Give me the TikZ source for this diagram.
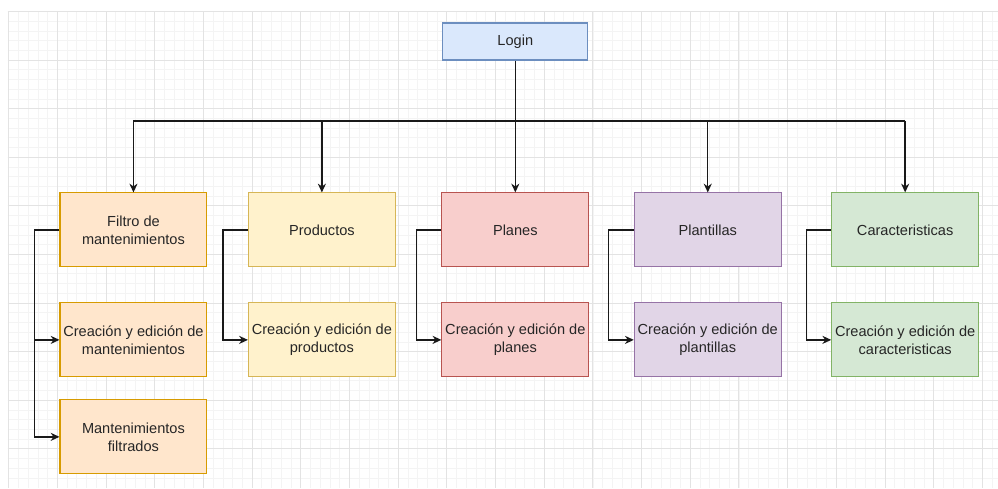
\documentclass[tikz,border=0pt]{standalone}
\usepackage{fontspec}
\setmainfont{Liberation Sans}
\usetikzlibrary{arrows.meta}

\definecolor{loginfill}{HTML}{DAE8FC}  \definecolor{logindraw}{HTML}{6C8EBF}
\definecolor{filtrofill}{HTML}{FFE6CC} \definecolor{filtrodraw}{HTML}{D79B00}
\definecolor{prodfill}{HTML}{FFF2CC}   \definecolor{proddraw}{HTML}{D6B656}
\definecolor{planfill}{HTML}{F8CECC}   \definecolor{plandraw}{HTML}{B85450}
\definecolor{plantfill}{HTML}{E1D5E7}  \definecolor{plantdraw}{HTML}{9673A6}
\definecolor{carfill}{HTML}{D5E8D4}    \definecolor{cardraw}{HTML}{82B366}

\begin{document}
\begin{tikzpicture}[x=0.02cm, y=-0.02cm,
    >={Stealth[length=5pt, width=4.6pt]},
    box/.style={draw, line width=0.6pt, minimum width=2.94cm, minimum height=1.48cm,
                align=center, inner sep=0pt, font=\fontsize{8.3}{10.2}\selectfont, text=black!85},
    link/.style={->, line width=0.8pt, black!90}]
    % --- 参数定义 ---
    \def\rowA{230}     % 第一行中心
    \def\rowB{340}     % 第二行中心
    \def\rowC{437}     % 第三行中心
    \def\bus{121}      % 水平总线
    \def\off{25}       % 侧边连线的偏移

    % --- 0. 背景网格 ---
    \fill[white] (0,0) rectangle (998,488);
    \foreach \k in {0,...,101} {
        \draw[gray!9, line width=0.3pt] ({8.6+9.74*\k},11) -- ({8.6+9.74*\k},488);
    }
    \foreach \k in {0,...,48} {
        \draw[gray!9, line width=0.3pt] (8,{11.4+9.72*\k}) -- (998,{11.4+9.72*\k});
    }
    \foreach \k in {0,...,20} {
        \draw[gray!22, line width=0.4pt] ({8.6+48.7*\k},11) -- ({8.6+48.7*\k},488);
    }
    \foreach \k in {0,...,9} {
        \draw[gray!22, line width=0.4pt] (8,{11.4+48.6*\k}) -- (998,{11.4+48.6*\k});
    }

    % --- 1. 节点 ---
    \node[box, fill=loginfill, draw=logindraw, minimum width=2.9cm, minimum height=0.74cm]
        (login) at (515.5,41.5) {Login};

    \node[box, fill=filtrofill, draw=filtrodraw] (filtro) at (133.5,\rowA) {Filtro de\\mantenimientos};
    \node[box, fill=prodfill, draw=proddraw]     (prod)   at (322,\rowA)   {Productos};
    \node[box, fill=planfill, draw=plandraw]     (planes) at (515.5,\rowA) {Planes};
    \node[box, fill=plantfill, draw=plantdraw]   (plant)  at (708,\rowA)   {Plantillas};
    \node[box, fill=carfill, draw=cardraw]       (car)    at (905.5,\rowA) {Caracteristicas};

    \node[box, fill=filtrofill, draw=filtrodraw] (creafiltro) at (133.5,\rowB) {Creación y edición de\\mantenimientos};
    \node[box, fill=prodfill, draw=proddraw]     (creaprod)   at (322,\rowB)   {Creación y edición de\\productos};
    \node[box, fill=planfill, draw=plandraw]     (creaplanes) at (515.5,\rowB) {Creación y edición de\\planes};
    \node[box, fill=plantfill, draw=plantdraw]   (creaplant)  at (708,\rowB)   {Creación y edición de\\plantillas};
    \node[box, fill=carfill, draw=cardraw]       (creacar)    at (905.5,\rowB) {Creación y edición de\\caracteristicas};

    \node[box, fill=filtrofill, draw=filtrodraw] (filtrados) at (133.5,\rowC) {Mantenimientos\\filtrados};

    % --- 2. Login 到第一行 ---
    \draw[line width=0.8pt, black!90] (login.south) -- (login.south |- 0,\bus);
    \draw[line width=0.8pt, black!90] (filtro.north |- 0,\bus) -- (car.north |- 0,\bus);
    \foreach \n in {filtro, prod, planes, plant, car} {
        \draw[link] (\n.north |- 0,\bus) -- (\n.north);
    }

    % --- 3. 侧边连线 ---
    \foreach \a/\b in {filtro/creafiltro, filtro/filtrados, prod/creaprod,
                       planes/creaplanes, plant/creaplant, car/creacar} {
        \draw[link] (\a.west) -- ++(-\off,0) |- (\b.west);
    }

\end{tikzpicture}
\end{document}
